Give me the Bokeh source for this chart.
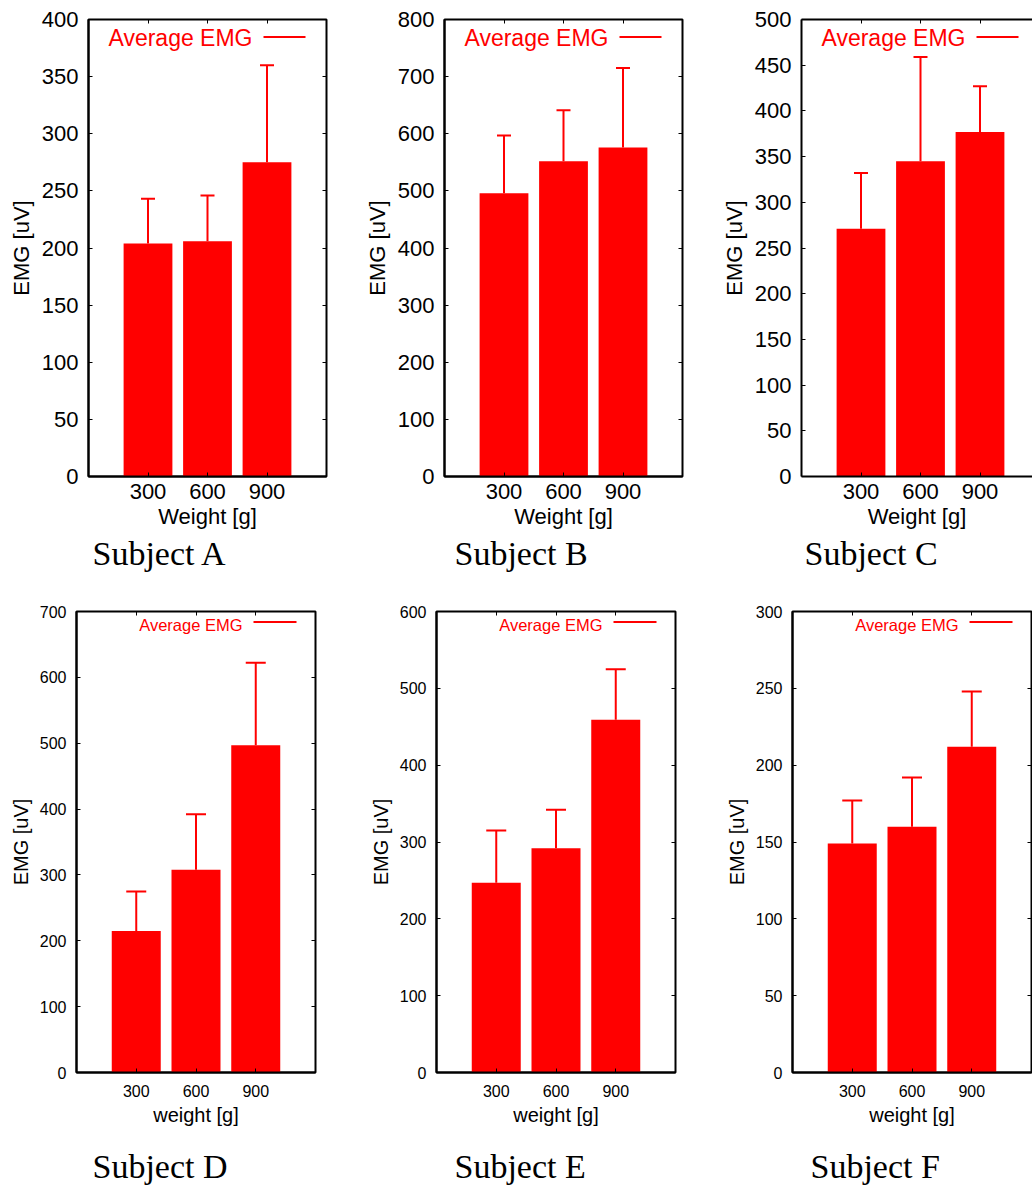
from bokeh.plotting import figure
from bokeh.layouts import column, row
from bokeh.models import (ColumnDataSource, Range1d, FixedTicker, LinearAxis,
                          Whisker, TeeHead, Label, Title)
from bokeh.embed import file_html
from bokeh.resources import INLINE

# ---- data -------------------------------------------------------------
weights = [300, 600, 900]

mean_a = [204, 206, 275]
sd_a = [39, 40, 85]
mean_b = [496, 552, 576]
sd_b = [101, 89, 139]
mean_c = [271, 345, 377]
sd_c = [61, 114, 50]
mean_d = [215, 308, 497]
sd_d = [60, 84, 125]
mean_e = [247, 292, 459]
sd_e = [68, 50, 66]
mean_f = [149, 160, 212]
sd_f = [28, 32, 36]

subject_names = ["Subject A", "Subject B", "Subject C",
                 "Subject D", "Subject E", "Subject F"]
y_max = [400, 800, 500, 700, 600, 300]
y_step = [50, 100, 50, 100, 100, 50]
x_titles = ["Weight [g]", "Weight [g]", "Weight [g]",
            "weight [g]", "weight [g]", "weight [g]"]
y_title = "EMG [uV]"
key_text = "Average EMG"

# ---- styling per row ---------------------------------------------------
SANS = "Liberation Sans"
SERIF = "Liberation Serif"
RED = "#ff0000"

top_row = dict(height=590, top=19, bottom=114, frame_w=238, tick="22px",
               axis="22px", key="23px", cap=14, tick_standoff=7,
               axis_standoff=2, key_text_dy=18, key_line_dy=17.5,
               key_text_dx=74, key_line_dx=(63, 21), subject="34px",
               subject_gap=0, subject_standoff=2.5)
bottom_row = dict(height=597, top=21, bottom=115, frame_w=239, tick="16px",
                  axis="20px", key="16.5px", cap=20, tick_standoff=12,
                  axis_standoff=4, key_text_dy=13, key_line_dy=10.5,
                  key_text_dx=73, key_line_dx=(62, 19), subject="34px",
                  subject_gap=17, subject_standoff=0)


def mirror_axis(ticks, line=False):
    # tick marks only, pointing into the frame; no labels are painted
    ax = LinearAxis(ticker=FixedTicker(ticks=ticks))
    ax.axis_line_color = "black" if line else None
    ax.axis_line_width = 2
    ax.major_tick_in = 4
    ax.major_tick_out = 0
    ax.minor_tick_in = 0
    ax.minor_tick_out = 0
    ax.major_label_text_color = None
    ax.major_label_text_font_size = "1px"
    ax.major_label_standoff = 0
    return ax


def spacer_axis(gap, tick):
    # blank band (white on white) between the axis title and the caption
    ax = LinearAxis(ticker=FixedTicker(ticks=[tick]))
    ax.axis_line_color = None
    ax.major_tick_line_color = "white"
    ax.major_tick_line_width = 1
    ax.minor_tick_line_color = None
    ax.major_tick_in = 0
    ax.major_tick_out = int(gap)
    ax.minor_tick_in = 0
    ax.minor_tick_out = 0
    ax.major_label_text_color = None
    ax.major_label_text_font_size = "1px"
    ax.major_label_standoff = 0
    return ax


def panel(name, means, sds, ymax, ystep, xtitle, s, width, left, right,
          frame_w, name_dx, clipped=False):
    pos = list(range(1, len(weights) + 1))
    x_full = len(weights) + 1
    ppx = s["frame_w"] / x_full
    x_end = frame_w / ppx
    frame_h = s["height"] - s["top"] - s["bottom"]
    ppy = frame_h / ymax

    src = ColumnDataSource(dict(
        x=pos,
        mean=means,
        upper=[m + e for m, e in zip(means, sds)],
    ))

    p = figure(width=width, height=s["height"], title=None,
               x_range=Range1d(0, x_end), y_range=Range1d(0, ymax),
               output_backend="svg", toolbar_location=None,
               min_border_left=left, min_border_right=right,
               min_border_top=s["top"], min_border_bottom=s["bottom"])
    p.grid.visible = False
    if clipped:
        p.outline_line_color = None
    else:
        p.outline_line_color = "black"
        p.outline_line_width = 2

    p.vbar(x="x", top="mean", bottom=0, width=0.82, source=src,
           fill_color=RED, line_color=None)

    p.add_layout(Whisker(source=src, base="x", upper="upper", lower="mean",
                         dimension="height", line_color=RED, line_width=2,
                         upper_head=TeeHead(size=s["cap"], line_color=RED,
                                            line_width=2),
                         lower_head=None))

    xa = p.xaxis[0]
    xa.ticker = FixedTicker(ticks=pos)
    xa.major_label_overrides = {k: str(w) for k, w in zip(pos, weights)}
    xa.axis_label = xtitle
    ya = p.yaxis[0]
    ya.ticker = FixedTicker(ticks=list(range(0, ymax + 1, ystep)))
    ya.axis_label = y_title
    for ax in (xa, ya):
        ax.axis_line_color = "black"
        ax.axis_line_width = 2
        ax.major_tick_in = 4
        ax.major_tick_out = 0
        ax.minor_tick_in = 0
        ax.minor_tick_out = 0
        ax.major_label_text_font = SANS
        ax.major_label_text_font_size = s["tick"]
        ax.major_label_text_color = "black"
        ax.axis_label_text_font = SANS
        ax.axis_label_text_font_size = s["axis"]
        ax.axis_label_text_font_style = "normal"
        ax.axis_label_text_color = "black"
    xa.major_label_standoff = s["tick_standoff"]
    xa.axis_label_standoff = s["axis_standoff"]
    ya.major_label_standoff = 10
    ya.axis_label_standoff = 5

    p.add_layout(mirror_axis(pos, line=clipped), "above")
    if not clipped:
        p.add_layout(mirror_axis(list(range(0, ymax + 1, ystep))), "right")

    # key: text first, sample line to its right
    p.add_layout(Label(x=x_full - s["key_text_dx"] / ppx,
                       y=ymax - s["key_text_dy"] / ppy,
                       text=key_text, text_align="right",
                       text_baseline="middle", text_color=RED,
                       text_font=SANS, text_font_size=s["key"]))
    ky = ymax - s["key_line_dy"] / ppy
    p.segment(x0=[x_full - s["key_line_dx"][0] / ppx],
              x1=[x_full - s["key_line_dx"][1] / ppx],
              y0=[ky], y1=[ky], line_color=RED, line_width=2)

    # panel caption under the axis title
    if s["subject_gap"] > 0:
        p.add_layout(spacer_axis(s["subject_gap"], x_end - 0.05), "below")
    p.add_layout(Title(text=name, align="left", offset=name_dx,
                       text_font=SERIF, text_font_size=s["subject"],
                       text_font_style="normal", text_color="black",
                       standoff=s["subject_standoff"]), "below")
    return p


pa = panel(subject_names[0], mean_a, sd_a, y_max[0], y_step[0], x_titles[0],
           top_row, 356, 88, 30, 238, 4)
pb = panel(subject_names[1], mean_b, sd_b, y_max[1], y_step[1], x_titles[1],
           top_row, 356, 88, 30, 238, 10)
pc = panel(subject_names[2], mean_c, sd_c, y_max[2], y_step[2], x_titles[2],
           top_row, 320, 89, 0, 231, 3, clipped=True)
pd = panel(subject_names[3], mean_d, sd_d, y_max[3], y_step[3], x_titles[3],
           bottom_row, 356, 76, 41, 239, 16)
pe = panel(subject_names[4], mean_e, sd_e, y_max[4], y_step[4], x_titles[4],
           bottom_row, 356, 80, 37, 239, 18)
pf = panel(subject_names[5], mean_f, sd_f, y_max[5], y_step[5], x_titles[5],
           bottom_row, 320, 80, 1, 239, 18)

layout = column(row(pa, pb, pc), row(pd, pe, pf))

with open("out.html", "w") as f:
    f.write(file_html(layout, INLINE))
